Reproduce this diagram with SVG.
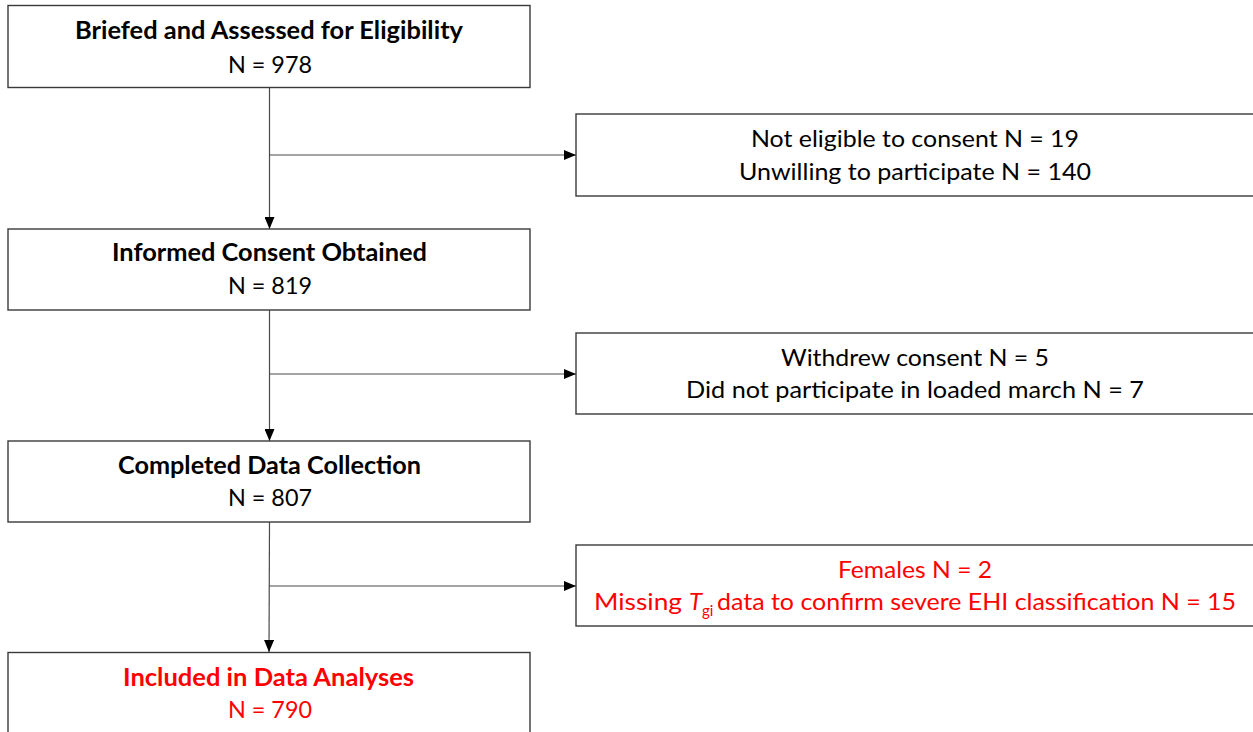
<svg xmlns="http://www.w3.org/2000/svg" width="1253" height="732" viewBox="0 0 1253 732">
<style>
.box{fill:#fff;stroke:#3a3a3a;stroke-width:1.4}
.t{font-family:Lato,"Open Sans","Liberation Sans",sans-serif;font-size:24px;fill:#000;text-anchor:middle}
.b{font-weight:700}
.red{fill:#ff0000}
.ln{fill:none;stroke:#4a4a4a;stroke-width:1.2}
</style>
<defs>
<marker id="ah" markerUnits="userSpaceOnUse" markerWidth="12" markerHeight="10" refX="12" refY="5" orient="auto">
<path d="M0,0 L12,5 L0,10 z" fill="#000"/>
</marker>
</defs>
<rect width="1253" height="732" fill="#fff"/>
<g id="connectors">
<line class="ln" x1="269.5" y1="88" x2="269.5" y2="229" marker-end="url(#ah)"/>
<line class="ln" x1="269.5" y1="155" x2="576" y2="155" marker-end="url(#ah)"/>
<line class="ln" x1="269.5" y1="310" x2="269.5" y2="441" marker-end="url(#ah)"/>
<line class="ln" x1="269.5" y1="374" x2="576" y2="374" marker-end="url(#ah)"/>
<line class="ln" x1="269.5" y1="522" x2="269" y2="652" marker-end="url(#ah)"/>
<line class="ln" x1="269.5" y1="586" x2="576" y2="586" marker-end="url(#ah)"/>
</g>
<g id="n1">
<rect class="box" x="8" y="5.5" width="522" height="82"/>
<text class="t b" x="269" y="39" textLength="388" lengthAdjust="spacingAndGlyphs">Briefed and Assessed for Eligibility</text>
<text class="t" x="270" y="73" textLength="84" lengthAdjust="spacingAndGlyphs">N = 978</text>
</g>
<g id="x1">
<rect class="box" x="576" y="114" width="700" height="82"/>
<text class="t" x="915" y="147" textLength="328" lengthAdjust="spacingAndGlyphs">Not eligible to consent N = 19</text>
<text class="t" x="915" y="180" textLength="352" lengthAdjust="spacingAndGlyphs">Unwilling to participate N = 140</text>
</g>
<g id="n2">
<rect class="box" x="8" y="229" width="522" height="81"/>
<text class="t b" x="269.5" y="261" textLength="315" lengthAdjust="spacingAndGlyphs">Informed Consent Obtained</text>
<text class="t" x="270" y="294" textLength="84" lengthAdjust="spacingAndGlyphs">N = 819</text>
</g>
<g id="x2">
<rect class="box" x="576" y="333" width="700" height="81"/>
<text class="t" x="915" y="366" textLength="268" lengthAdjust="spacingAndGlyphs">Withdrew consent N = 5</text>
<text class="t" x="915" y="398" textLength="458" lengthAdjust="spacingAndGlyphs">Did not participate in loaded march N = 7</text>
</g>
<g id="n3">
<rect class="box" x="8" y="441" width="522" height="81"/>
<text class="t b" x="269.5" y="474" textLength="303" lengthAdjust="spacingAndGlyphs">Completed Data Collection</text>
<text class="t" x="270" y="506" textLength="84" lengthAdjust="spacingAndGlyphs">N = 807</text>
</g>
<g id="x3">
<rect class="box" x="576" y="545" width="700" height="81"/>
<text class="t red" x="915" y="578" textLength="154" lengthAdjust="spacingAndGlyphs">Females N = 2</text>
<text class="t red" style="text-anchor:start" y="610"><tspan x="594" textLength="88" lengthAdjust="spacingAndGlyphs">Missing</tspan><tspan x="689" font-style="italic">T</tspan><tspan x="702" y="616" font-size="15">gi</tspan><tspan x="717" y="610" textLength="519" lengthAdjust="spacingAndGlyphs">data to confirm severe EHI classification N = 15</tspan></text>
</g>
<g id="n4">
<rect class="box" x="8" y="652.5" width="522" height="100"/>
<text class="t b red" x="268.5" y="686" textLength="291" lengthAdjust="spacingAndGlyphs">Included in Data Analyses</text>
<text class="t red" x="270" y="718" textLength="84" lengthAdjust="spacingAndGlyphs">N = 790</text>
</g>
</svg>
